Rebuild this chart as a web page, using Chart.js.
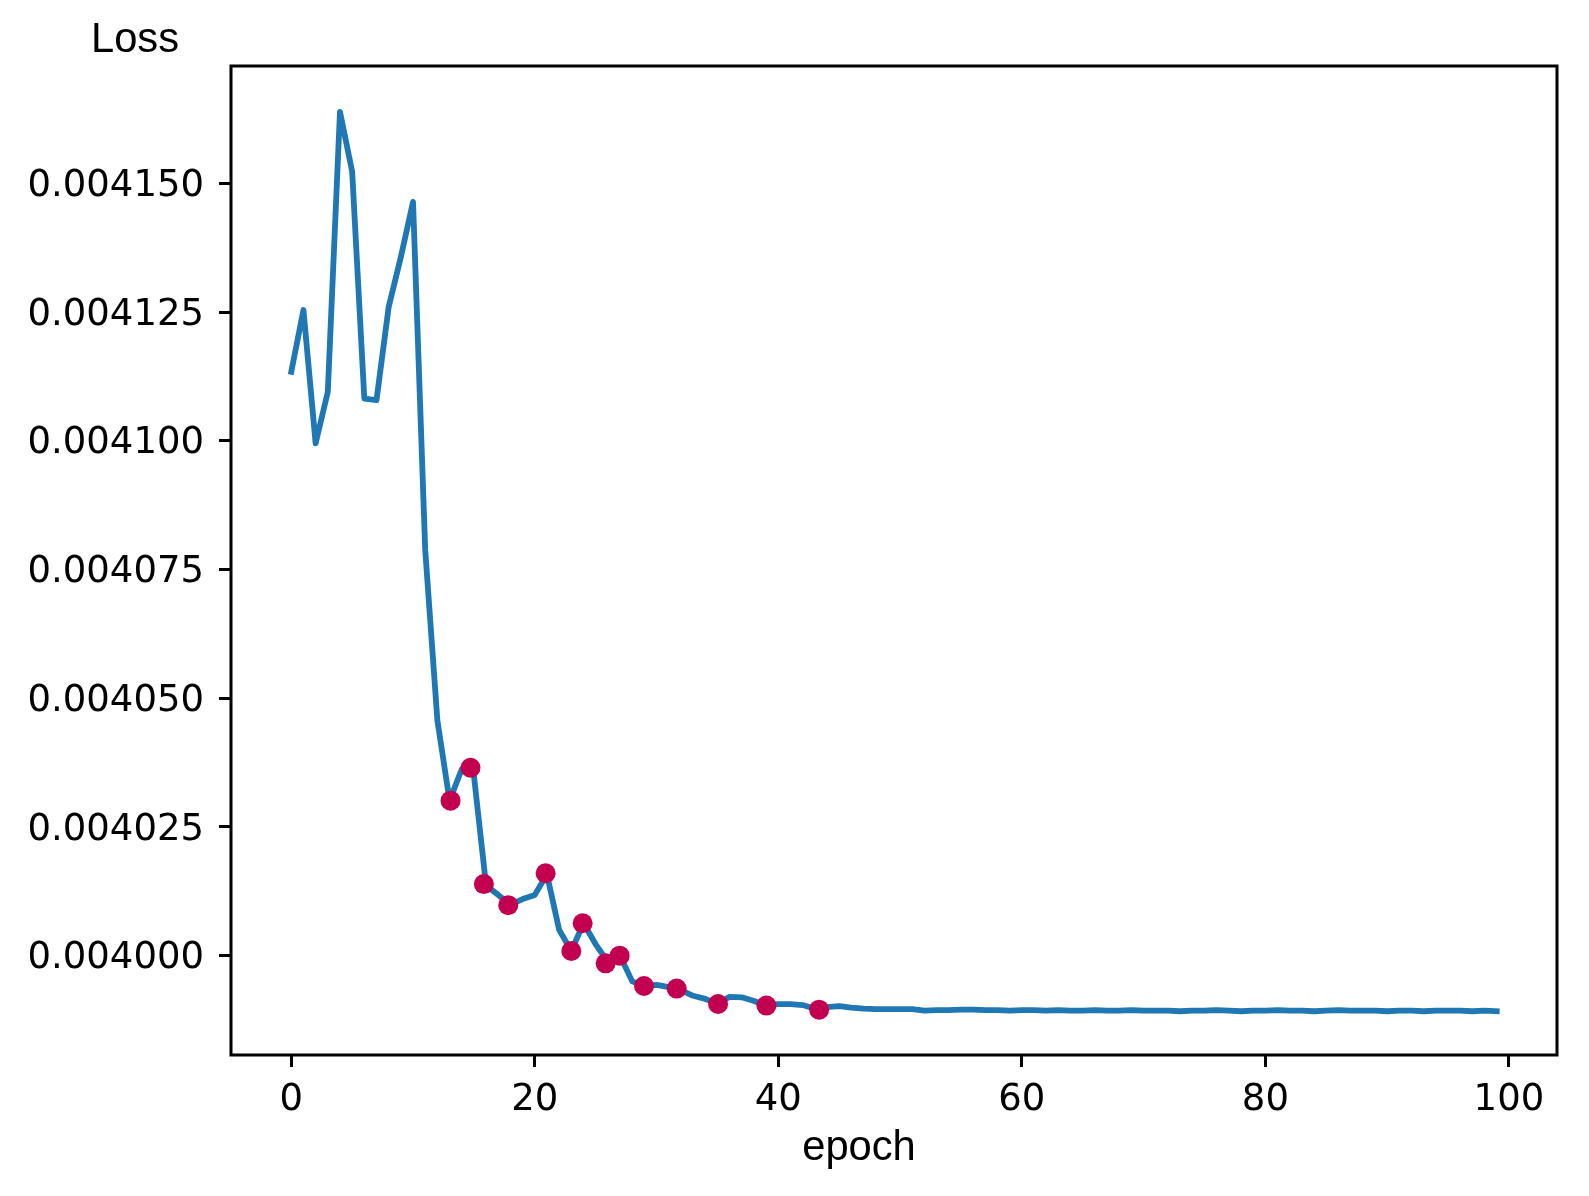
<!DOCTYPE html>
<html>
<head>
<meta charset="utf-8">
<title>Loss</title>
<script src="https://cdn.jsdelivr.net/npm/chart.js@4/dist/chart.umd.min.js"></script>
<style>
  html, body { margin: 0; padding: 0; background: #fff; }
  #wrap { width: 1589px; height: 1196px; }
</style>
</head>
<body>
<div id="wrap"><canvas id="chart" width="1589" height="1196"></canvas></div>
<script>
// loss per epoch (0..99)
const lossValues = [
  0.0041134, 0.0041254, 0.0040995, 0.0041095, 0.0041639, 0.0041523, 0.0041082, 0.0041079, 0.0041260, 0.0041357,
  0.0041464, 0.0040788, 0.0040457, 0.0040301, 0.0040362, 0.0040350, 0.0040136, 0.0040118, 0.0040099, 0.0040110,
  0.0040118, 0.0040158, 0.0040050, 0.0040009, 0.0040063, 0.0040022, 0.0039988, 0.0040000, 0.0039950, 0.0039941,
  0.0039943, 0.0039939, 0.0039933, 0.0039922, 0.0039916, 0.0039906, 0.0039920, 0.0039919, 0.0039912, 0.0039903,
  0.0039906, 0.0039906, 0.0039904, 0.0039897, 0.0039900, 0.0039902, 0.0039899, 0.0039897, 0.0039896, 0.0039896,
  0.0039896, 0.0039896, 0.0039893, 0.0039894, 0.0039894, 0.0039895, 0.0039895, 0.0039894, 0.0039894, 0.0039893,
  0.0039894, 0.0039894, 0.0039893, 0.0039894, 0.0039893, 0.0039893, 0.0039894, 0.0039893, 0.0039893, 0.0039894,
  0.0039893, 0.0039893, 0.0039893, 0.0039892, 0.0039893, 0.0039893, 0.0039894, 0.0039893, 0.0039892, 0.0039893,
  0.0039893, 0.0039894, 0.0039893, 0.0039893, 0.0039892, 0.0039893, 0.0039894, 0.0039893, 0.0039893, 0.0039893,
  0.0039892, 0.0039893, 0.0039893, 0.0039892, 0.0039893, 0.0039893, 0.0039893, 0.0039892, 0.0039893, 0.0039892
];

// highlighted points (red dots)
const markerEpochs = [13.08, 14.72, 15.82, 17.82, 20.89, 23.0, 23.93, 25.82, 26.97, 28.97, 31.65, 35.05, 39.02, 43.35];
const markerLoss = [0.0040301, 0.0040365, 0.0040139, 0.0040098, 0.0040160, 0.0040009, 0.0040063,
                    0.0039985, 0.0040000, 0.0039941, 0.0039936, 0.0039906, 0.0039903, 0.0039895];

const xTicks = [0, 20, 40, 60, 80, 100];
const yTicks = [0.004000, 0.004025, 0.004050, 0.004075, 0.004100, 0.004125, 0.004150];

const frameAndTitles = {
  id: 'frameAndTitles',
  afterDraw(chart) {
    const ctx = chart.ctx;
    const a = chart.chartArea;
    ctx.save();
    ctx.strokeStyle = '#000';
    ctx.lineWidth = 3;
    ctx.strokeRect(a.left, a.top, a.right - a.left, a.bottom - a.top);
    ctx.fillStyle = '#000';
    ctx.font = '41.7px "Liberation Sans", Arial, sans-serif';
    ctx.textBaseline = 'alphabetic';
    ctx.textAlign = 'center';
    ctx.fillText('Loss', a.left - 96, a.top - 14);
    ctx.fillText('epoch', a.left + 628, a.bottom + 105);
    ctx.restore();
  }
};

Chart.defaults.font.family = '"DejaVu Sans", sans-serif';
Chart.defaults.font.size = 37;
Chart.defaults.color = '#000';

new Chart(document.getElementById('chart'), {
  type: 'line',
  data: {
    datasets: [
      {
        type: 'scatter',
        label: 'marked',
        data: markerEpochs.map((e, i) => ({ x: e, y: markerLoss[i] })),
        backgroundColor: '#c3004f',
        borderWidth: 0,
        pointRadius: 10,
        order: 0
      },
      {
        label: 'loss',
        data: lossValues.map((v, i) => ({ x: i, y: v })),
        borderColor: '#1f77b4',
        borderWidth: 5.8,
        borderJoinStyle: 'round',
        borderCapStyle: 'square',
        pointRadius: 0,
        tension: 0,
        fill: false,
        order: 1
      }
    ]
  },
  options: {
    responsive: false,
    animation: false,
    devicePixelRatio: 1,
    layout: { padding: { top: 66, right: 32, left: 0, bottom: 0 } },
    plugins: {
      legend: { display: false },
      tooltip: { enabled: false }
    },
    scales: {
      x: {
        type: 'linear',
        min: -4.95,
        max: 103.95,
        afterBuildTicks: s => { s.ticks = xTicks.map(v => ({ value: v })); },
        afterFit: s => { s.height = 141; },
        ticks: { padding: 11, callback: v => String(v) },
        grid: { drawOnChartArea: false, drawTicks: true, tickLength: 12, tickWidth: 3, tickColor: '#000' },
        border: { display: false }
      },
      y: {
        type: 'linear',
        min: 0.0039807,
        max: 0.0041728,
        afterBuildTicks: s => { s.ticks = yTicks.map(v => ({ value: v })); },
        afterFit: s => { s.width = 231; },
        ticks: { padding: 15, labelOffset: 3, callback: v => v.toFixed(6) },
        grid: { drawOnChartArea: false, drawTicks: true, tickLength: 12, tickWidth: 3, tickColor: '#000' },
        border: { display: false }
      }
    }
  },
  plugins: [frameAndTitles]
});
</script>
</body>
</html>
